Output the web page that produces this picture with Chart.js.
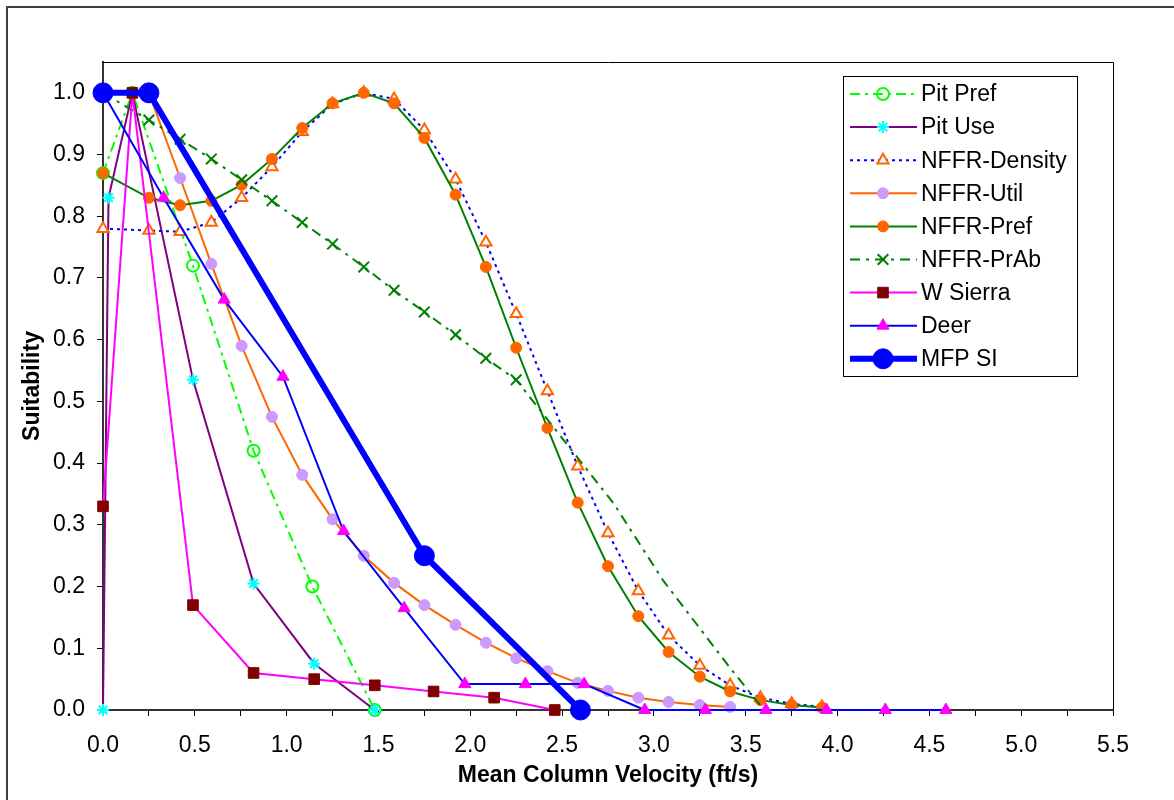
<!DOCTYPE html>
<html><head><meta charset="utf-8">
<script src="https://cdn.jsdelivr.net/npm/chart.js@4/dist/chart.umd.min.js"></script>
<style>html,body{margin:0;padding:0;background:#fff}#wrap{width:1174px;height:800px;position:relative}</style>
</head><body><div id="wrap"><canvas id="c" width="1174" height="800"></canvas></div>
<script>
// ---------- data ----------
const seriesNames = ['Pit Pref','Pit Use','NFFR-Density','NFFR-Util','NFFR-Pref','NFFR-PrAb','W Sierra','Deer','MFP SI'];

const pitPrefX = [0, 0.16, 0.49, 0.82, 1.14, 1.48];
const pitPrefY = [0.87, 1.0, 0.72, 0.42, 0.20, 0.0];

const pitUseX = [0, 0.03, 0.16, 0.49, 0.82, 1.15, 1.48];
const pitUseY = [0, 0.83, 1.0, 0.535, 0.205, 0.075, 0];

const nffrX = [0, 0.25, 0.42, 0.59, 0.755, 0.92, 1.085, 1.25, 1.42, 1.585, 1.75, 1.92, 2.085, 2.25, 2.42, 2.585, 2.75, 2.915, 3.08, 3.25, 3.415, 3.58, 3.75, 3.915];
const nffrDensityY = [0.78, 0.777, 0.775, 0.79, 0.83, 0.88, 0.937, 0.982, 1.0, 0.99, 0.94, 0.86, 0.758, 0.642, 0.517, 0.395, 0.287, 0.193, 0.121, 0.072, 0.04, 0.02, 0.01, 0.005];
const nffrPrefY = [0.87, 0.83, 0.818, 0.825, 0.851, 0.893, 0.943, 0.983, 1.0, 0.983, 0.927, 0.835, 0.718, 0.587, 0.457, 0.336, 0.233, 0.152, 0.094, 0.054, 0.03, 0.016, 0.008, 0.004];

const nffrUtilX = [0.25, 0.42, 0.59, 0.755, 0.92, 1.085, 1.25, 1.42, 1.585, 1.75, 1.92, 2.085, 2.25, 2.42, 2.585, 2.75, 2.915, 3.08, 3.25, 3.415];
const nffrUtilY = [1.0, 0.862, 0.723, 0.59, 0.475, 0.381, 0.309, 0.25, 0.206, 0.17, 0.138, 0.109, 0.084, 0.063, 0.044, 0.031, 0.02, 0.013, 0.008, 0.005];

const nffrPrAbX = [0, 0.25, 0.42, 0.59, 0.755, 0.92, 1.085, 1.25, 1.42, 1.585, 1.75, 1.92, 2.085, 2.25, 2.78, 3.05, 3.41, 3.6];
const nffrPrAbY = [1.0, 0.956, 0.925, 0.893, 0.859, 0.825, 0.79, 0.755, 0.718, 0.68, 0.645, 0.608, 0.57, 0.535, 0.335, 0.21, 0.07, 0.0];
const nffrPrAbMarked = 14; // markers shown on the first points only

const wSierraX = [0, 0.16, 0.49, 0.82, 1.15, 1.48, 1.80, 2.13, 2.46];
const wSierraY = [0.33, 1.0, 0.17, 0.06, 0.05, 0.04, 0.03, 0.02, 0.0];

const deerX = [0, 0.33, 0.66, 0.98, 1.31, 1.64, 1.97, 2.30, 2.62, 2.95, 3.28, 3.61, 3.94, 4.26, 4.59];
const deerY = [1.0, 0.83, 0.665, 0.54, 0.29, 0.165, 0.042, 0.042, 0.042, 0, 0, 0, 0, 0, 0];

const mfpX = [0, 0.25, 1.75, 2.6];
const mfpY = [1.0, 1.0, 0.25, 0.0];

const xTickLabels = ['0.0','0.5','1.0','1.5','2.0','2.5','3.0','3.5','4.0','4.5','5.0','5.5'];
const yTickLabels = ['0.0','0.1','0.2','0.3','0.4','0.5','0.6','0.7','0.8','0.9','1.0'];

// ---------- helpers ----------
const pts = (xs, ys) => xs.map((x, i) => ({x: x, y: ys[i]}));
const FONT = "'Liberation Sans', Arial, sans-serif";

const styles = [
  {line:'#00FF00', w:2, dash:[10,5,3,5], ps:'circle', r:6, fill:'rgba(0,0,0,0)', stroke:'#00FF00', bw:2},
  {line:'#800080', w:2, dash:[], ps:'star', r:6, fill:'#00FFFF', stroke:'#00FFFF', bw:2},
  {line:'#0000FF', w:2, dash:[3,4], ps:'triangle', r:6.5, fill:'#FFFFFF', stroke:'#FF6600', bw:2},
  {line:'#FF6600', w:2, dash:[], ps:'circle', r:5.5, fill:'#CC99FF', stroke:'#CC99FF', bw:1},
  {line:'#008000', w:2, dash:[], ps:'circle', r:5.5, fill:'#FF6600', stroke:'#FF6600', bw:1},
  {line:'#008000', w:2, dash:[10,6,3,6], ps:'crossRot', r:7.5, fill:'#008000', stroke:'#008000', bw:2},
  {line:'#FF00FF', w:2, dash:[], ps:'rect', r:7.5, fill:'#800000', stroke:'#800000', bw:1},
  {line:'#0000FF', w:2, dash:[], ps:'triangle', r:7, fill:'#FF00FF', stroke:'#FF00FF', bw:1},
  {line:'#0000FF', w:6, dash:[], ps:'circle', r:10, fill:'#0000FF', stroke:'#0000FF', bw:1}
];

const seriesData = [
  pts(pitPrefX, pitPrefY),
  pts(pitUseX, pitUseY),
  pts(nffrX, nffrDensityY),
  pts(nffrUtilX, nffrUtilY),
  pts(nffrX, nffrPrefY),
  pts(nffrPrAbX, nffrPrAbY),
  pts(wSierraX, wSierraY),
  pts(deerX, deerY),
  pts(mfpX, mfpY)
];

const datasets = seriesData.map((d, i) => {
  const s = styles[i];
  let radius = s.r;
  if (i === 5) radius = d.map((_, k) => k < nffrPrAbMarked ? s.r : 0);
  return {
    label: seriesNames[i], data: d, showLine: true, tension: 0,
    borderColor: s.line, borderWidth: s.w, borderDash: s.dash,
    pointStyle: s.ps, pointRadius: radius, pointHoverRadius: radius,
    pointBackgroundColor: s.fill, pointBorderColor: s.stroke, pointBorderWidth: s.bw,
    clip: false, order: seriesNames.length - 1 - i
  };
});

function drawMarker(ctx, s, x, y) {
  const r = s.r;
  ctx.save();
  ctx.lineWidth = s.bw; ctx.strokeStyle = s.stroke; ctx.fillStyle = s.fill; ctx.setLineDash([]);
  ctx.beginPath();
  if (s.ps === 'circle') { ctx.arc(x, y, r, 0, Math.PI*2); ctx.fill(); ctx.stroke(); }
  else if (s.ps === 'triangle') {
    let a = 0;
    ctx.moveTo(x + Math.sin(a)*r, y - Math.cos(a)*r);
    a += 2*Math.PI/3; ctx.lineTo(x + Math.sin(a)*r, y - Math.cos(a)*r);
    a += 2*Math.PI/3; ctx.lineTo(x + Math.sin(a)*r, y - Math.cos(a)*r);
    ctx.closePath(); ctx.fill(); ctx.stroke();
  } else if (s.ps === 'rect') {
    const h = r*Math.SQRT1_2; ctx.rect(x-h, y-h, 2*h, 2*h); ctx.fill(); ctx.stroke();
  } else if (s.ps === 'crossRot') {
    const h = r*Math.SQRT1_2;
    ctx.moveTo(x-h, y-h); ctx.lineTo(x+h, y+h); ctx.moveTo(x-h, y+h); ctx.lineTo(x+h, y-h); ctx.stroke();
  } else if (s.ps === 'star') {
    const h = r*Math.SQRT1_2;
    ctx.moveTo(x, y-r); ctx.lineTo(x, y+r); ctx.moveTo(x-r, y); ctx.lineTo(x+r, y);
    ctx.moveTo(x-h, y-h); ctx.lineTo(x+h, y+h); ctx.moveTo(x-h, y+h); ctx.lineTo(x+h, y-h); ctx.stroke();
  }
  ctx.restore();
}

const framePlugin = {
  id: 'frame',
  beforeDraw(chart) {
    const ctx = chart.ctx;
    ctx.save();
    ctx.fillStyle = '#fff'; ctx.fillRect(0, 0, chart.width, chart.height);
    ctx.strokeStyle = '#404040'; ctx.lineWidth = 2;
    ctx.beginPath(); ctx.moveTo(7, 820); ctx.lineTo(7, 7); ctx.lineTo(1190, 7); ctx.stroke();
    ctx.restore();
  },
  beforeDatasetsDraw(chart) {
    const a = chart.chartArea, ctx = chart.ctx;
    ctx.save();
    ctx.strokeStyle = '#000'; ctx.lineWidth = 1;
    ctx.beginPath(); ctx.moveTo(a.left, a.top + 0.5); ctx.lineTo(a.right + 0.5, a.top + 0.5); ctx.lineTo(a.right + 0.5, a.bottom); ctx.stroke();
    ctx.restore();
  },
  afterDatasetsDraw(chart) {
    const ctx = chart.ctx;
    const bx = 843, by = 76, bw = 234, bh = 300;
    ctx.save();
    ctx.fillStyle = '#fff'; ctx.fillRect(bx, by, bw, bh);
    ctx.strokeStyle = '#000'; ctx.lineWidth = 1;
    ctx.strokeRect(bx + 0.5, by + 0.5, bw, bh);
    seriesNames.forEach((name, i) => {
      const s = styles[i];
      const y = 94 + i * 33.1;
      ctx.save();
      ctx.strokeStyle = s.line; ctx.lineWidth = s.w; ctx.setLineDash(s.dash);
      ctx.beginPath(); ctx.moveTo(850, y); ctx.lineTo(917, y); ctx.stroke();
      ctx.restore();
      drawMarker(ctx, s, 883, y);
      ctx.fillStyle = '#000'; ctx.font = '23px ' + FONT; ctx.textBaseline = 'middle'; ctx.textAlign = 'left';
      ctx.fillText(name, 921, y + 1);
    });
    ctx.restore();
  }
};

Chart.defaults.font.family = FONT;
Chart.defaults.color = '#000';

new Chart(document.getElementById('c'), {
  type: 'scatter',
  data: { datasets: datasets },
  options: {
    responsive: false, animation: false, devicePixelRatio: 1,
    layout: { padding: { left: 0, top: 62, right: 61, bottom: 0 } },
    plugins: { legend: { display: false }, tooltip: { enabled: false } },
    events: [],
    scales: {
      x: {
        type: 'linear', min: 0, max: 5.5,
        afterFit(s) { s.height = 90; },
        afterBuildTicks(s) {
          const t = [];
          for (let k = 0; k <= 22; k++) t.push({ value: k * 0.25 });
          s.ticks = t;
        },
        ticks: {
          autoSkip: false, maxRotation: 0, padding: 16, color: '#000',
          font: { size: 23 },
          callback(v) {
            const k = Math.round(v / 0.5);
            return Math.abs(v - k * 0.5) < 1e-6 ? xTickLabels[k] : '';
          }
        },
        grid: { drawOnChartArea: false, drawTicks: true, tickLength: 6, color: '#000', tickWidth: 1 },
        border: { display: true, color: '#333', width: 2 },
        title: { display: true, text: 'Mean Column Velocity (ft/s)', color: '#000',
                 font: { size: 23, weight: 'bold' }, padding: { top: 0, bottom: 11 } }
      },
      y: {
        type: 'linear', min: 0, max: 1.05,
        afterFit(s) { s.width = 103; },
        afterBuildTicks(s) { s.ticks = yTickLabels.map((_, k) => ({ value: k * 0.1 })); },
        ticks: {
          padding: 12, color: '#000', font: { size: 23 },
          callback(v) { return yTickLabels[Math.round(v * 10)]; }
        },
        grid: { drawOnChartArea: false, drawTicks: true, tickLength: 6, color: '#000', tickWidth: 1 },
        border: { display: true, color: '#333', width: 2 },
        title: { display: true, text: 'Suitability', color: '#000',
                 font: { size: 23, weight: 'bold' }, padding: { top: 19, bottom: 0 } }
      }
    }
  },
  plugins: [framePlugin]
});
</script>
</body></html>
